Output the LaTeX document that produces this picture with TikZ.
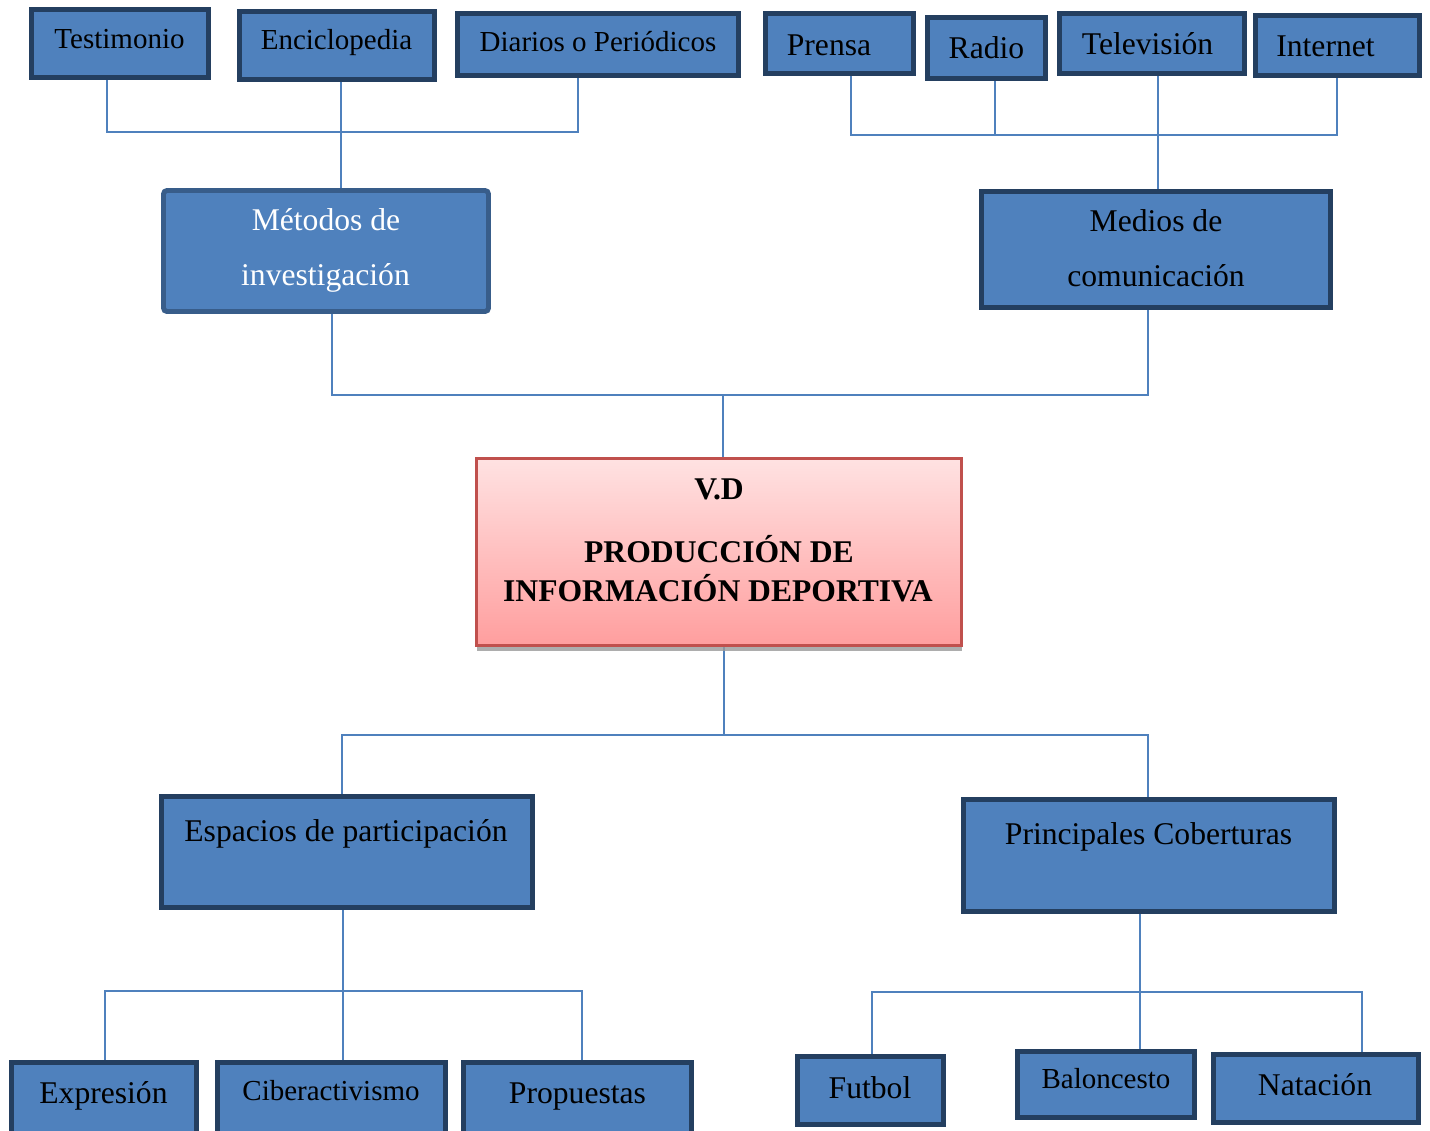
\documentclass[tikz,border=0pt]{standalone}
\usepackage{fontspec}
\setmainfont{Liberation Serif}
\usetikzlibrary{fit,backgrounds,shadows}
\definecolor{boxfill}{HTML}{4F81BD}
\definecolor{boxdraw}{HTML}{243F60}
\definecolor{metdraw}{HTML}{385D8A}
\definecolor{conncol}{HTML}{4F81BD}
\definecolor{vdtop}{HTML}{FFE2E2}
\definecolor{vdbot}{HTML}{FF9E9E}
\definecolor{vddraw}{HTML}{C0504D}
\tikzset{
  box/.style={draw=boxdraw, fill=boxfill, line width=2.8pt, inner sep=0pt, rectangle},
  conn/.style={draw=conncol, line width=1.1pt},
  tsmall/.style={anchor=base, inner sep=0pt, font=\fontsize{16.5}{20}\selectfont},
  tbig/.style={anchor=base, inner sep=0pt, font=\fontsize{18}{22}\selectfont},
  tbold/.style={anchor=base, inner sep=0pt, font=\fontsize{18}{22}\selectfont\bfseries},
}
\begin{document}
\begin{tikzpicture}[x=0.02cm, y=-0.02cm]
\useasboundingbox (0,0) rectangle (1430,1130);
\clip (0,0) rectangle (1430,1130);
% boxes
\node[box, fit={(31.5,9.5) (208.5,77.5)}] (test) {};
\node[box, fit={(239.5,11.5) (434.5,79.5)}] (enc) {};
\node[box, fit={(457.5,13.5) (738.5,75.5)}] (diar) {};
\node[box, fit={(765.5,13.5) (913.5,73.5)}] (pren) {};
\node[box, fit={(927.5,17.5) (1045.5,78.5)}] (radio) {};
\node[box, fit={(1059.5,13.5) (1244.5,73.5)}] (tele) {};
\node[box, fit={(1255.5,15.5) (1419.5,75.5)}] (inter) {};
\node[box, draw=metdraw, rounded corners=2pt, fit={(163.5,190.5) (488.5,311.5)}] (met) {};
\node[box, fit={(981.5,191.5) (1330.5,307.5)}] (med) {};
\node[rectangle, inner sep=0pt, draw=vddraw, line width=1.2pt, top color=vdtop, bottom color=vdbot,
      drop shadow={shadow xshift=0pt, shadow yshift=-3pt, fill=black!40, opacity=0.8},
      fit={(476.5,458.5) (961.5,645.5)}] (vd) {};
\node[box, fit={(161.5,796.5) (532.5,907.5)}] (esp) {};
\node[box, fit={(963.5,799.5) (1334.5,911.5)}] (prin) {};
\node[box, fit={(11.5,1062.5) (196.5,1140)}] (expr) {};
\node[box, fit={(217.5,1062.5) (445.5,1140)}] (cib) {};
\node[box, fit={(463.5,1062.5) (691.5,1140)}] (prop) {};
\node[box, fit={(797.5,1056.5) (943.5,1124.5)}] (fut) {};
\node[box, fit={(1017.5,1051.5) (1194.5,1117.5)}] (bal) {};
\node[box, fit={(1213.5,1054.5) (1418.5,1122.5)}] (nat) {};
% junction coordinates
\coordinate (tlA) at (107,132);
\coordinate (tlB) at (341,132);
\coordinate (tlC) at (578,132);
\coordinate (trA) at (851,135);
\coordinate (trB) at (995,135);
\coordinate (trC) at (1158,135);
\coordinate (trD) at (1337,135);
\coordinate (mA) at (332,395);
\coordinate (mC) at (723,395);
\coordinate (mB) at (1148,395);
\coordinate (lA) at (342,735);
\coordinate (lC) at (724,735);
\coordinate (lB) at (1148,735);
\coordinate (bA) at (105,991);
\coordinate (bB) at (343,991);
\coordinate (bC) at (582,991);
\coordinate (cA) at (872,992);
\coordinate (cB) at (1140,992);
\coordinate (cC) at (1362,992);
% connectors
\begin{pgfonlayer}{background}
\draw[conn] (test.south -| tlA) -- (tlA) -- (tlC) -- (diar.south -| tlC);
\draw[conn] (enc.south -| tlB) -- (met.north -| tlB);
\draw[conn] (pren.south -| trA) -- (trA) -- (trD) -- (inter.south -| trD);
\draw[conn] (radio.south -| trB) -- (trB);
\draw[conn] (tele.south -| trC) -- (med.north -| trC);
\draw[conn] (met.south -| mA) -- (mA) -- (mB) -- (med.south -| mB);
\draw[conn] (mC) -- (vd.north -| mC);
\draw[conn] (vd.south -| lC) -- (lC);
\draw[conn] (esp.north -| lA) -- (lA) -- (lB) -- (prin.north -| lB);
\draw[conn] (expr.north -| bA) -- (bA) -- (bC) -- (prop.north -| bC);
\draw[conn] (esp.south -| bB) -- (cib.north -| bB);
\draw[conn] (fut.north -| cA) -- (cA) -- (cC) -- (nat.north -| cC);
\draw[conn] (prin.south -| cB) -- (bal.north -| cB);
\end{pgfonlayer}
% texts
\node[tsmall] (tTest) at (119.5,48) {Testimonio};
\node[tsmall] (tEnc) at (336.5,49) {Enciclopedia};
\node[tsmall] (tDiar) at (598,51) {Diarios o Periódicos};
\node[tbig] (tPren) at (829,55) {Prensa};
\node[tbig] (tRadio) at (986.5,58) {Radio};
\node[tbig] (tTele) at (1147.5,54) {Televisión};
\node[tbig] (tInter) at (1325.5,56) {Internet};
\node[tbig, text=white] (tMet1) at (326,230) {Métodos de};
\node[tbig, text=white] (tMet2) at (325.5,285) {investigación};
\node[tbig] (tMed1) at (1156,231) {Medios de};
\node[tbig] (tMed2) at (1156,286) {comunicación};
\node[tbold] (tVd1) at (719,499) {V.D};
\node[tbold] (tVd2) at (719,562) {PRODUCCIÓN DE};
\node[tbold] (tVd3) at (718,601) {INFORMACIÓN DEPORTIVA};
\node[tbig] (tEsp) at (346,841) {Espacios de participación};
\node[tbig] (tPrin) at (1148.5,844) {Principales Coberturas};
\node[tbig] (tExpr) at (103.5,1103) {Expresión};
\node[tsmall] (tCib) at (331,1100) {Ciberactivismo};
\node[tbig] (tProp) at (577.5,1103) {Propuestas};
\node[tbig] (tFut) at (870,1098) {Futbol};
\node[tsmall] (tBal) at (1106,1088) {Baloncesto};
\node[tbig] (tNat) at (1315,1095) {Natación};
\end{tikzpicture}
\end{document}
